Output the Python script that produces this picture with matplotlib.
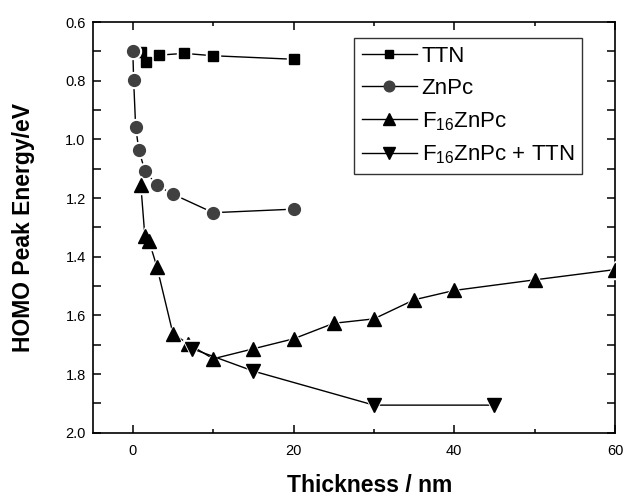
import numpy as np
import matplotlib
matplotlib.use("Agg")
import matplotlib.pyplot as plt
from matplotlib.lines import Line2D
from matplotlib.ticker import MultipleLocator

plt.rcParams['font.family'] = ['Liberation Sans', 'DejaVu Sans']
plt.rcParams['mathtext.fontset'] = 'custom'
plt.rcParams['mathtext.rm'] = 'Liberation Sans'
plt.rcParams['mathtext.bf'] = 'Liberation Sans:bold'

# ---- data ----
ttn_x = [1.0, 1.6, 3.2, 6.4, 10.0, 20.0]
ttn_y = [0.702, 0.736, 0.713, 0.707, 0.715, 0.727]

znpc_x = [0.0, 0.1, 0.35, 0.75, 1.5, 3.0, 5.0, 10.0, 20.0]
znpc_y = [0.698, 0.798, 0.957, 1.037, 1.107, 1.157, 1.187, 1.250, 1.238]

f16_x = [1.0, 1.5, 2.0, 3.0, 5.0, 6.9, 10.0, 15.0, 20.0, 25.0, 30.0, 35.0, 40.0, 50.0, 60.0]
f16_y = [1.157, 1.331, 1.345, 1.435, 1.663, 1.697, 1.748, 1.714, 1.680, 1.627,
         1.612, 1.547, 1.515, 1.479, 1.444]

f16ttn_x = [7.4, 15.0, 30.0, 45.0]
f16ttn_y = [1.714, 1.790, 1.906, 1.906]

labels = ['TTN', 'ZnPc', r'F$_{16}$ZnPc', r'F$_{16}$ZnPc + TTN']

# ---- figure ----
fig = plt.figure(figsize=(6.26, 5.0), dpi=100)
ax = fig.add_axes([0.148, 0.1346, 0.8344, 0.8214])

series = [
    (ttn_x, ttn_y, 's', 6.5, 'black'),
    (znpc_x, znpc_y, 'o', 8.5, '#404040'),
    (f16_x, f16_y, '^', 10, 'black'),
    (f16ttn_x, f16ttn_y, 'v', 10, 'black'),
]

handles = []
for i, (x, y, m, ms, c) in enumerate(series):
    z = 2 + i
    ax.plot(x, y, '-', color='black', lw=1.0, zorder=z)
    # white halo gives the little gaps where the line meets a marker
    ax.plot(x, y, ls='none', marker=m, ms=ms + 3, mfc='white', mec='white', zorder=z + 0.1)
    ax.plot(x, y, ls='none', marker=m, ms=ms, mfc=c, mec=c, zorder=z + 0.2)
    handles.append(Line2D([], [], color='black', lw=1.0, marker=m, ms=ms * 0.9,
                          mfc=c, mec=c))

ax.set_xlim(-5, 60)
ax.set_ylim(2.0, 0.6)

ax.xaxis.set_major_locator(MultipleLocator(20))
ax.xaxis.set_minor_locator(MultipleLocator(10))
ax.yaxis.set_major_locator(MultipleLocator(0.2))
ax.yaxis.set_minor_locator(MultipleLocator(0.1))
ax.yaxis.set_major_formatter(plt.FormatStrFormatter('%.1f'))

ax.tick_params(which='both', direction='in', top=True, right=True,
               width=1.1, labelsize=10.5)
ax.tick_params(axis='x', which='major', length=6, pad=8)
ax.tick_params(axis='x', which='minor', length=3)
ax.tick_params(axis='y', which='both', length=6, pad=5)

for sp in ax.spines.values():
    sp.set_linewidth(1.2)

ax.set_xlabel('Thickness / nm', fontsize=16.5, fontweight='bold', labelpad=12)
ax.xaxis.label.set_x(0.531)
ax.set_ylabel('HOMO Peak Energy/eV', fontsize=16.5, fontweight='bold', labelpad=22)

leg = ax.legend(handles, labels, loc='upper left', bbox_to_anchor=(0.5, 0.961),
                fontsize=16, frameon=True, fancybox=False, handlelength=2.5,
                handletextpad=0.2, labelspacing=0.5, borderpad=0.35,
                borderaxespad=0)
leg.get_frame().set_edgecolor('black')
leg.get_frame().set_linewidth(1.0)

fig.savefig('out.png', dpi=100)
